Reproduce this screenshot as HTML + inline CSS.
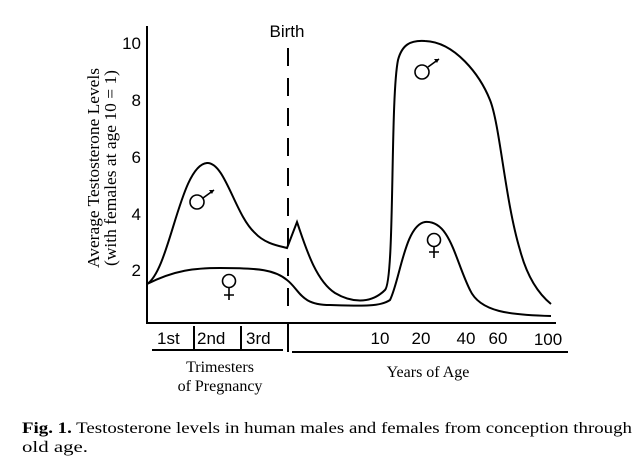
<!DOCTYPE html>
<html><head><style>body{margin:0;background:#fff}</style></head><body>
<svg width="639" height="471" viewBox="0 0 639 471" xmlns="http://www.w3.org/2000/svg">
<g fill="none" stroke="#000" stroke-width="2">
<path d="M147,26 V323 H556"/>
<path d="M288,48 V318" stroke-dasharray="18,12"/>
<path d="M288,324 V352"/>
<path d="M194,326 V350 M241,326 V350"/>
<path d="M152,350 H283 M292,352 H568"/>
<path d="M147,284 C170,270 180,165 207,163 C225,162 235,215 255,233 C265,244 280,246 287,248 L297,222 C305,245 315,280 335,293 C350,302 370,305 385,290 C395,280 390,100 398,60 C402,45 410,40 425,41 C455,42 480,75 490,100 C500,125 505,200 520,250 C528,280 540,295 551,304"/>
<path d="M147,284 C175,270 195,268 220,268 C260,268 275,270 287,280 C300,290 300,305 330,305 C360,306 380,307 390,300 C400,280 405,225 425,222 C450,220 455,260 470,290 C480,312 510,315 551,316"/>
</g>
<g fill="none" stroke="#000" stroke-width="1.6">
<circle cx="197" cy="202" r="7"/><path d="M203,198 L214,190"/>
<circle cx="422" cy="72" r="7"/><path d="M428,67 L439,59"/>
<circle cx="229" cy="281" r="6.5"/><path d="M229,288 V300 M224,295 H234"/>
<circle cx="434" cy="240" r="6.5"/><path d="M434,247 V258 M429,252 H439"/>
</g>
<path d="M214,190 l-5,0 l3,4z M439,59 l-5,0 l3,4z" fill="#000"/>
<g font-family="Liberation Sans, sans-serif" font-size="17" fill="#000">
<text x="287" y="37" text-anchor="middle">Birth</text>
<text x="141" y="49" text-anchor="end">10</text>
<text x="141" y="106" text-anchor="end">8</text>
<text x="141" y="163" text-anchor="end">6</text>
<text x="141" y="220" text-anchor="end">4</text>
<text x="141" y="276" text-anchor="end">2</text>
<text x="157" y="344">1st</text>
<text x="197" y="344">2nd</text>
<text x="246" y="344">3rd</text>
<text x="380" y="344" text-anchor="middle">10</text>
<text x="421" y="344" text-anchor="middle">20</text>
<text x="466" y="344" text-anchor="middle">40</text>
<text x="498" y="344" text-anchor="middle">60</text>
<text x="548" y="345" text-anchor="middle">100</text>
</g>
<g font-family="Liberation Serif, serif" font-size="16" fill="#000">
<text x="220" y="372" text-anchor="middle">Trimesters</text>
<text x="220" y="391" text-anchor="middle">of Pregnancy</text>
<text x="428" y="377" text-anchor="middle">Years of Age</text>
<text transform="translate(99,168) rotate(-90)" text-anchor="middle" font-size="17" textLength="200" lengthAdjust="spacingAndGlyphs">Average Testosterone Levels</text>
<text transform="translate(116,168) rotate(-90)" text-anchor="middle" font-size="17" textLength="196" lengthAdjust="spacingAndGlyphs">(with females at age 10 = 1)</text>
</g>
<g font-family="Liberation Serif, serif" font-size="16" fill="#000">
<text x="22" y="433" textLength="610" lengthAdjust="spacingAndGlyphs"><tspan font-weight="bold">Fig. 1.</tspan> Testosterone levels in human males and females from conception through</text>
<text x="22" y="452" textLength="66" lengthAdjust="spacingAndGlyphs">old age.</text>
</g>
</svg>
</body></html>
